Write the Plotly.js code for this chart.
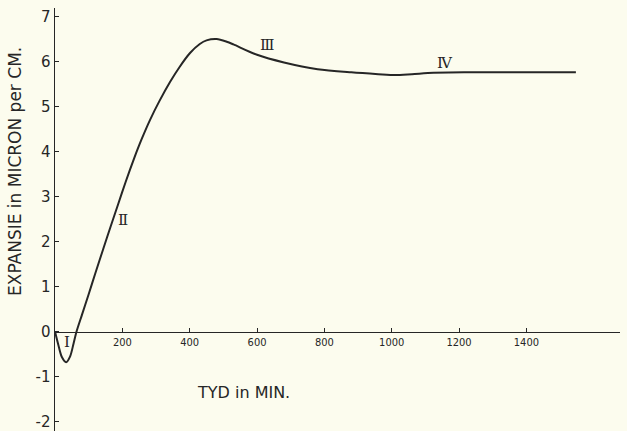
<!DOCTYPE html>
<html>
<head>
<meta charset="utf-8">
<script src="https://cdn.plot.ly/plotly-3.0.1.min.js"></script>
<style>html,body{margin:0;padding:0;background:#fcfcee;}</style>
</head>
<body>
<div id="chart" style="width:627px;height:431px;"></div>
<script>
// Data
const timeMin = [0, 10, 20, 33, 45, 55, 64, 80, 100, 120, 143, 165, 188, 210, 235, 257, 282, 310, 342, 370, 401, 430, 450, 480, 510, 530, 600, 680, 780, 880, 960, 1010, 1060, 1124, 1220, 1320, 1440, 1547];
const expansion = [0, -0.3, -0.56, -0.68, -0.55, -0.27, 0, 0.37, 0.83, 1.3, 1.83, 2.33, 2.84, 3.33, 3.85, 4.27, 4.7, 5.12, 5.55, 5.88, 6.19, 6.39, 6.47, 6.5, 6.44, 6.38, 6.15, 5.98, 5.83, 5.76, 5.72, 5.70, 5.72, 5.75, 5.76, 5.76, 5.76, 5.76];

const xTickVals = [200, 400, 600, 800, 1000, 1200, 1400];
const xTickText = ['200', '400', '600', '800', '1000', '1200', '1400'];
const yTickVals = [-2, -1, 0, 1, 2, 3, 4, 5, 6, 7];
const yTickText = ['-2', '-1', '0', '1', '2', '3', '4', '5', '6', '7'];

const phaseLabels = ['Ⅰ', 'Ⅱ', 'Ⅲ', 'Ⅳ'];
const phaseX = [35, 202, 630, 1158];
const phaseY = [-0.23, 2.48, 6.37, 5.97];

const xRange = [0, 1678];
const yRange = [-2.21, 7.19];
const ink = '#262626';

const annotations = phaseLabels.map((t, i) => ({
  x: phaseX[i], y: phaseY[i], xref: 'x', yref: 'y', text: t, showarrow: false,
  font: {family: 'DejaVu Serif, serif', size: 15, color: ink}
}));
annotations.push({
  x: 243, y: 392, xref: 'paper', yref: 'paper', text: 'TYD in MIN.', showarrow: false,
  font: {family: 'DejaVu Sans, sans-serif', size: 16, color: ink}
});
annotations.push({
  x: 15, y: 172, xref: 'paper', yref: 'paper', text: 'EXPANSIE in MICRON per CM.', showarrow: false,
  textangle: -90,
  font: {family: 'DejaVu Sans, sans-serif', size: 17, color: ink}
});

// convert pixel-positioned annotations to paper coords
const W = 627, H = 431, M = {l: 55, r: 7, t: 8, b: 0};
annotations.forEach(a => {
  if (a.xref === 'paper') {
    a.x = (a.x - M.l) / (W - M.l - M.r);
    a.y = 1 - (a.y - M.t) / (H - M.t - M.b);
    a.xanchor = 'center'; a.yanchor = 'middle';
  }
});

const data = [{
  x: timeMin, y: expansion, type: 'scatter', mode: 'lines',
  line: {color: ink, width: 2, shape: 'spline', smoothing: 0.8},
  hoverinfo: 'skip'
}];

const layout = {
  width: W, height: H,
  margin: M,
  paper_bgcolor: '#fcfcee', plot_bgcolor: '#fcfcee',
  showlegend: false,
  xaxis: {
    range: xRange, anchor: 'free',
    position: (0 - yRange[0]) / (yRange[1] - yRange[0]),
    showline: true, linecolor: ink, linewidth: 1.5,
    ticks: 'inside', ticklen: 4, tickwidth: 1, tickcolor: ink,
    tickvals: xTickVals, ticktext: xTickText,
    tickfont: {family: 'DejaVu Sans Condensed, DejaVu Sans, sans-serif', size: 11, color: ink},
    showgrid: false, zeroline: false
  },
  yaxis: {
    range: yRange,
    showline: true, linecolor: ink, linewidth: 1.5,
    ticks: 'inside', ticklen: 4, tickwidth: 1, tickcolor: ink,
    tickvals: yTickVals, ticktext: yTickText,
    tickfont: {family: 'DejaVu Sans, sans-serif', size: 15, color: ink},
    showgrid: false, zeroline: false
  },
  annotations: annotations
};

Plotly.newPlot('chart', data, layout, {displayModeBar: false, staticPlot: true});
</script>
</body>
</html>
